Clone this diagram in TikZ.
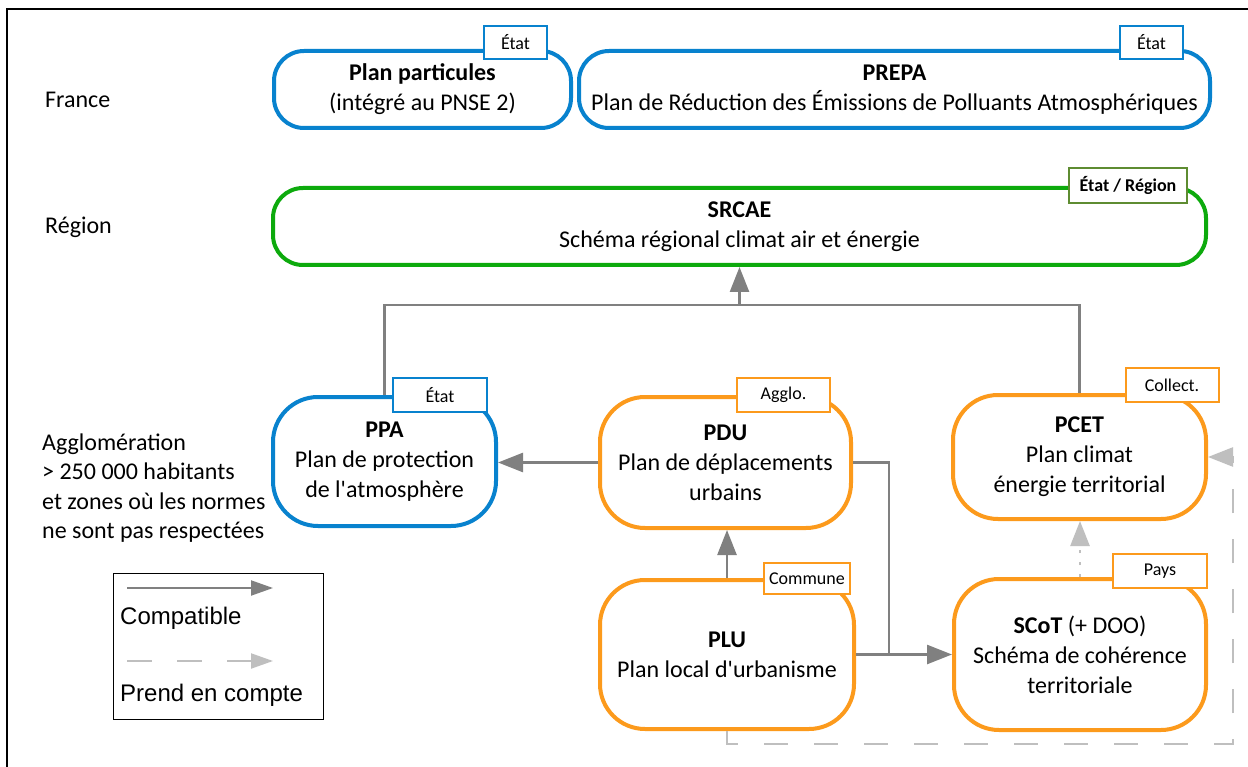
\documentclass[tikz,border=0pt]{standalone}
\usepackage{fontspec}
\setmainfont{Carlito}
\newfontfamily\legendfont{Liberation Sans}
\usetikzlibrary{arrows.meta}
\definecolor{pblue}{HTML}{0882CE}
\definecolor{pgreen}{HTML}{0DAA0D}
\definecolor{polive}{HTML}{5E8C31}
\definecolor{porange}{HTML}{FC9A1C}
\definecolor{cgray}{HTML}{808080}
\definecolor{dgray}{HTML}{BFBFBF}
\newcommand{\apos}{\textquotesingle}
\begin{document}
\begin{tikzpicture}[x=1pt,y=-1pt,
  plan/.style={draw=#1, line width=4pt, rounded corners=30pt, fill=white, align=center,
    inner sep=0pt, font=\fontsize{24}{30}\selectfont},
  tag/.style={draw=#1, line width=2pt, fill=white, inner sep=0pt,
    font=\fontsize{18}{20}\selectfont},
  conn/.style={draw=cgray, line width=2.5pt},
  compat/.style={conn, -{Triangle[length=25pt,width=19pt]}},
  take/.style={draw=dgray, line width=2.5pt, dash pattern=on 24pt off 26pt,
    -{Triangle[length=25pt,width=19pt]}},
  level/.style={anchor=west, align=left, inner sep=0pt, font=\fontsize{24}{29.2}\selectfont},
  legtext/.style={anchor=west, inner sep=0pt, font=\legendfont\fontsize{24}{28}\selectfont}
]
\useasboundingbox (0,0) rectangle (1248,767);
\fill[white] (0,0) rectangle (1248,767);
% outer frame
\draw[line width=2pt] (1250,9) -- (7,9) -- (7,770);

% level labels
\node[level] (lfr) at (45,100) {France};
\node[level] (lre) at (45,227) {Région};
\node[level] (lag) at (42,488) {Agglomération\\> 250 000 habitants\\et zones où les normes\\ne sont pas respectées};

% plans
\node[plan=pblue, minimum width=297pt, minimum height=77pt] (pp) at (422.5,89.5)
  {\textbf{Plan particules}\\(intégré au PNSE 2)};
\node[plan=pblue, minimum width=631pt, minimum height=77pt] (prepa) at (894.5,89.5)
  {\textbf{PREPA}\\Plan de Réduction des Émissions de Polluants Atmosphériques};
\node[plan=pgreen, minimum width=933pt, minimum height=77pt] (srcae) at (739.5,226.5)
  {\textbf{SRCAE}\\Schéma régional climat air et énergie};
\node[plan=pblue, rounded corners=45pt, minimum width=223pt, minimum height=129pt] (ppa) at (384.5,461.5)
  {\textbf{PPA}\\Plan de protection\\de l\apos atmosphère};
\node[plan=porange, rounded corners=45pt, minimum width=251pt, minimum height=131pt] (pdu) at (725.5,462.5)
  {\textbf{PDU}\\Plan de déplacements\\urbains};
\node[plan=porange, rounded corners=45pt, minimum width=253pt, minimum height=124pt] (pcet) at (1079.5,457)
  {\textbf{PCET}\\Plan climat\\énergie territorial};
\node[plan=porange, rounded corners=45pt, minimum width=254pt, minimum height=149pt] (plu) at (727,654.5)
  {\textbf{PLU}\\Plan local d\apos urbanisme};
\node[plan=porange, rounded corners=45pt, minimum width=252pt, minimum height=151pt] (scot) at (1080,654.5)
  {\textbf{SCoT} (+ DOO)\\Schéma de cohérence\\territoriale};

% tags
\node[tag=pblue, minimum width=63pt, minimum height=33pt] (tpp) at (515.5,42.5) {État};
\node[tag=pblue, minimum width=63pt, minimum height=33pt] (tprepa) at (1151.5,42.5) {État};
\node[tag=polive, minimum width=118pt, minimum height=35pt] (tsrcae) at (1128,185.5) {\textbf{État / Région}};
\node[tag=pblue, minimum width=94pt, minimum height=34pt] (tppa) at (440,395) {État};
\node[tag=porange, minimum width=93pt, minimum height=34pt] (tpdu) at (783.5,395) {Agglo.};
\node[tag=porange, minimum width=93pt, minimum height=34pt] (tpcet) at (1172,385) {Collect.};
\node[tag=porange, minimum width=86pt, minimum height=31pt] (tplu) at (807,578.5) {Commune};
\node[tag=porange, minimum width=94pt, minimum height=34pt] (tscot) at (1160,571) {Pays};

% compatible connectors
\coordinate (j1) at (739.5,305);
\draw[conn] (ppa.north) |- (j1) -| (pcet.north);
\draw[compat] (j1) -- (srcae.south);
\draw[compat] (pdu.west) -- (pdu.west -| ppa.east);
\draw[compat] (plu.north) -- (plu.north |- pdu.south);
\coordinate (j2) at (889,654.5);
\draw[conn] (pdu.east) -| (j2);
\draw[compat] (plu.east) -- (scot.west);

% take-into-account connectors
\draw[take, dash pattern=on 3pt off 9pt] (scot.north) -- (scot.north |- pcet.south);
\coordinate (c1) at (1233,744);
\draw[take] (plu.south) |- (c1) |- (pcet.east);

% legend
\node[draw=black, line width=1pt, minimum width=210pt, minimum height=146pt, inner sep=0pt] (legend) at (218,646) {};
\coordinate (la1) at (127,588);
\coordinate (la2) at (273,588);
\coordinate (lb1) at (127,661);
\coordinate (lb2) at (273,661);
\draw[draw=cgray, line width=2pt, -{Triangle[length=22pt,width=15pt]}] (la1) -- (la2);
\draw[draw=dgray, line width=2pt, dash pattern=on 25pt off 25pt, -{Triangle[length=22pt,width=15pt]}] (lb1) -- (lb2);
\node[legtext] (lc) at (120,618) {Compatible};
\node[legtext] (lp) at (120,695) {Prend en compte};
\end{tikzpicture}
\end{document}
